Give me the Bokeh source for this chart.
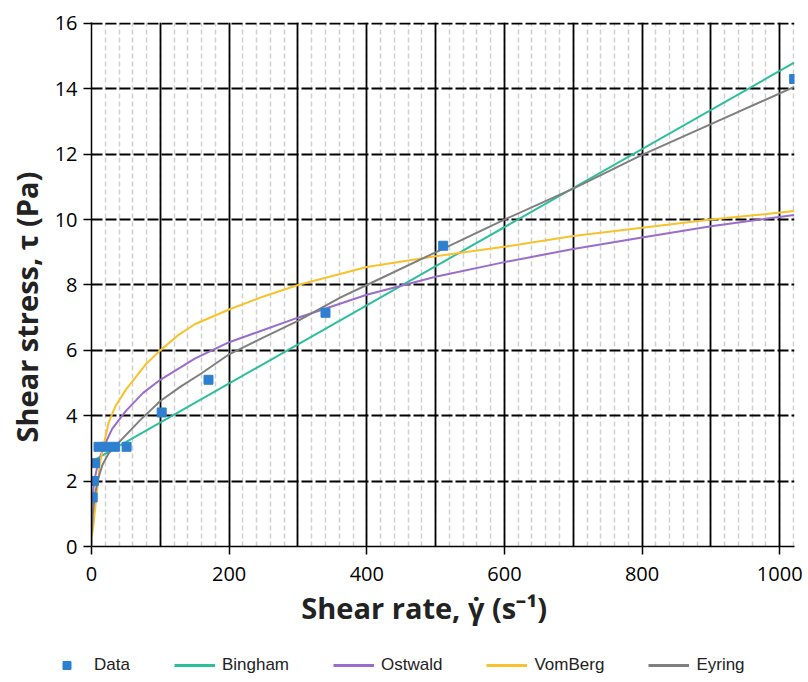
from bokeh.plotting import figure
from bokeh.layouts import column
from bokeh.models import (Range1d, SingleIntervalTicker, Legend, LegendItem)
from bokeh.embed import file_html
from bokeh.resources import INLINE

# ---- data ----
data_rate = [1.7, 3.4, 5.1, 10.2, 20.4, 34, 51, 102, 170, 340, 511, 1021]
data_stress = [1.5, 2.0, 2.55, 3.05, 3.05, 3.05, 3.05, 4.1, 5.1, 7.15, 9.2, 14.3]

bingham_rate = [0, 1021]
bingham_stress = [2.6, 14.8]

ostwald_rate = [0, 1, 3, 5, 10, 20, 30, 50, 75, 100, 150, 200, 300, 400, 500, 600, 700, 800, 900, 1021]
ostwald_stress = [0.0, 1.3, 1.8, 2.1, 2.6, 3.15, 3.6, 4.15, 4.7, 5.1, 5.75, 6.25, 7.0, 7.7, 8.25, 8.7, 9.1, 9.45, 9.8, 10.14]

vomberg_rate = [0, 3, 6, 9, 12, 17, 25, 35, 50, 60, 80, 100, 125, 150, 200, 250, 300, 400, 500, 600, 700, 800, 900, 1021]
vomberg_stress = [0.2, 0.7, 1.3, 1.9, 2.5, 3.05, 3.8, 4.3, 4.8, 5.07, 5.6, 6.0, 6.45, 6.8, 7.25, 7.65, 8.0, 8.55, 8.88, 9.17, 9.5, 9.75, 10.0, 10.26]

eyring_rate = [0, 2, 5, 10, 16, 25, 45, 70, 100, 130, 160, 200, 250, 300, 362, 400, 500, 600, 700, 800, 900, 1021]
eyring_stress = [0.3, 1.0, 1.6, 2.1, 2.5, 2.85, 3.3, 3.85, 4.45, 4.9, 5.3, 5.88, 6.4, 6.9, 7.62, 8.0, 9.0, 10.0, 10.95, 11.98, 12.92, 14.06]

series_names = ["Data", "Bingham", "Ostwald", "VomBerg", "Eyring"]
x_ticks = [0, 200, 400, 600, 800, 1000]
y_ticks = [0, 2, 4, 6, 8, 10, 12, 14, 16]

C_DATA = "#2F7FD1"
C_BING = "#2BBF9C"
C_OST = "#9A6DCB"
C_VOM = "#F7C22B"
C_EYR = "#7F7F7F"

TICK_FONT = "Open Sans"
LEG_FONT = "Liberation Sans"
NB = "\u00a0"

p = figure(width=806, height=638, output_backend="svg", toolbar_location=None,
           x_range=Range1d(0, 1021.5), y_range=Range1d(0, 16.03),
           min_border_left=91, min_border_right=12, min_border_top=22, min_border_bottom=92)
p.outline_line_color = None
p.background_fill_color = "white"

for ax in (p.xaxis[0], p.yaxis[0]):
    ax.axis_line_color = "black"
    ax.axis_line_width = 1.5
    ax.major_tick_line_color = "black"
    ax.major_tick_line_width = 1.5
    ax.major_tick_out = 8
    ax.major_tick_in = 0
    ax.minor_tick_line_color = None
    ax.major_label_text_font = TICK_FONT
    ax.major_label_text_font_size = "20px"
    ax.major_label_text_color = "black"
    ax.axis_label_text_font = TICK_FONT
    ax.axis_label_text_font_style = "bold"
    ax.axis_label_text_font_size = "29px"
    ax.axis_label_text_color = "#222222"

p.xaxis.ticker = x_ticks
p.yaxis.ticker = y_ticks
p.xaxis.axis_label = "Shear rate,  \u03b3\u0307 (s\u207b\u00b9)" + NB * 4
p.yaxis.axis_label = "Shear stress, \u03c4 (Pa)" + NB * 6
p.xaxis.major_label_standoff = 12
p.yaxis.major_label_standoff = 6
p.xaxis.axis_label_standoff = 4
p.yaxis.axis_label_standoff = 6

p.xgrid.ticker = SingleIntervalTicker(interval=100, num_minor_ticks=5)
p.xgrid.grid_line_color = "black"
p.xgrid.grid_line_width = 1.8
p.xgrid.minor_grid_line_color = "#cfcfcf"
p.xgrid.minor_grid_line_width = 1.5
p.xgrid.minor_grid_line_dash = "5 3"

p.ygrid.ticker = SingleIntervalTicker(interval=2)
p.ygrid.grid_line_color = "black"
p.ygrid.grid_line_width = 1.8
p.ygrid.grid_line_dash = "11 3"

p.line(bingham_rate, bingham_stress, line_color=C_BING, line_width=2)
p.line(ostwald_rate, ostwald_stress, line_color=C_OST, line_width=2)
p.line(vomberg_rate, vomberg_stress, line_color=C_VOM, line_width=2)
p.line(eyring_rate, eyring_stress, line_color=C_EYR, line_width=2)
p.scatter(data_rate, data_stress, marker="square", size=9, fill_color=C_DATA, line_color=C_DATA)

# ---- legend strip below the chart (series drawn out of view, only their legend shows) ----
q = figure(width=806, height=42, output_backend="svg", toolbar_location=None,
           x_range=Range1d(0, 1021.5), y_range=Range1d(-200, -199),
           min_border_left=0, min_border_right=0, min_border_top=0, min_border_bottom=0)
q.axis.visible = False
q.grid.visible = False
q.outline_line_color = None
p.frame_align = False
q.frame_align = False

l_d = q.scatter(data_rate, data_stress, marker="square", size=6, fill_color=C_DATA, line_color=C_DATA)
l_b = q.line(bingham_rate, bingham_stress, line_color=C_BING, line_width=3)
l_o = q.line(ostwald_rate, ostwald_stress, line_color=C_OST, line_width=3)
l_v = q.line(vomberg_rate, vomberg_stress, line_color=C_VOM, line_width=3)
l_e = q.line(eyring_rate, eyring_stress, line_color=C_EYR, line_width=3)

legend = Legend(items=[LegendItem(label=n, renderers=[r]) for n, r in
                       zip(series_names, [l_d, l_b, l_o, l_v, l_e])],
                orientation="horizontal", location=(46, 5),
                label_text_font=LEG_FONT, label_text_font_size="17px", label_text_color="#222222",
                glyph_width=41, glyph_height=20, spacing=44, label_standoff=7,
                border_line_color=None, background_fill_alpha=0, padding=0, margin=0)
q.add_layout(legend, "center")

layout = column(p, q, spacing=0)
open("out.html", "w").write(file_html(layout, INLINE))
